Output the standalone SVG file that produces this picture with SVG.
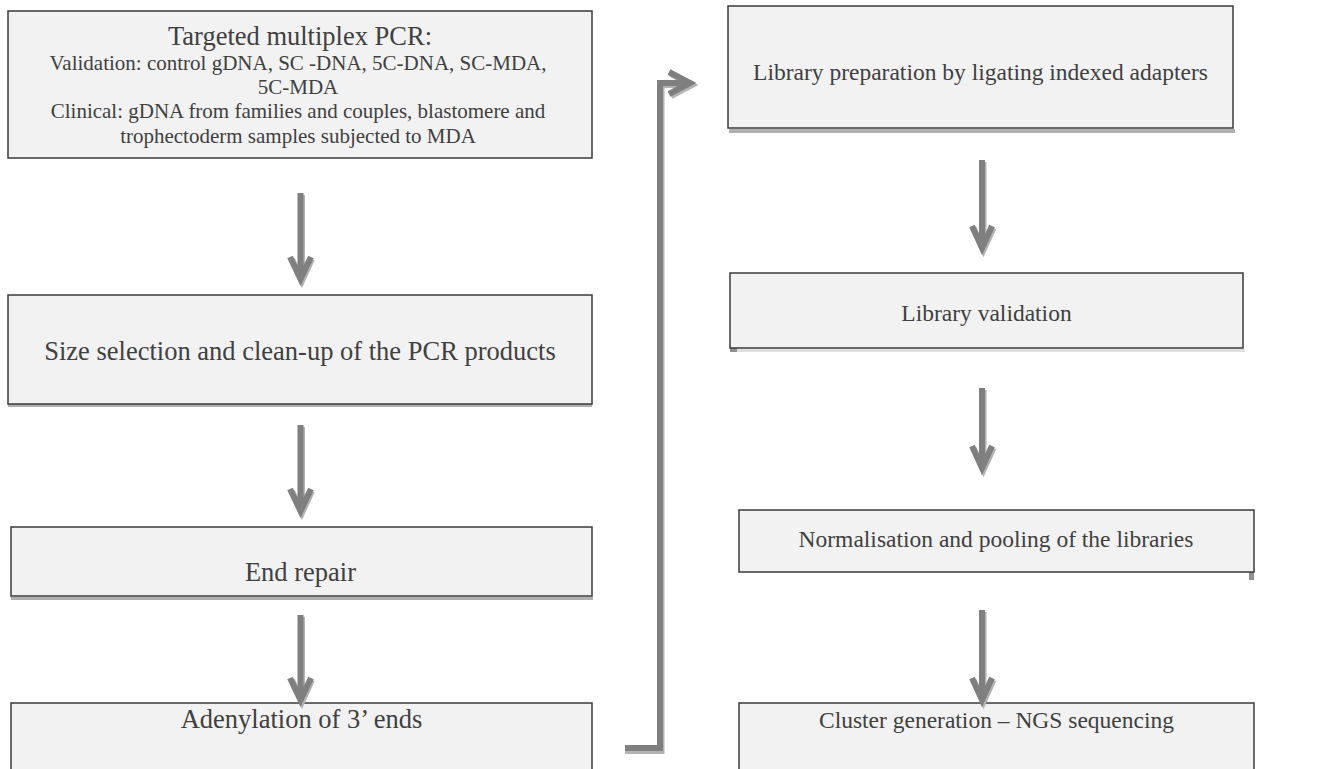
<svg xmlns="http://www.w3.org/2000/svg" width="1319" height="769" viewBox="0 0 1319 769">
<style>
.box{fill:#f2f2f2;stroke:#3a3a3a;stroke-width:1.5}
.t{font-family:"Liberation Serif","Times New Roman",serif;fill:#404040;text-anchor:middle}
.L{font-size:26.5px}
.R{font-size:23.5px}
.s{font-size:21px}
.ar{fill:none;stroke:#7f7f7f;stroke-width:6;stroke-linejoin:miter}
.sh{fill:none;stroke:#b3b3b3;stroke-width:6;stroke-linejoin:miter}
.shd{fill:#b0b0b0}
</style>
<rect width="1319" height="769" fill="#ffffff"/>

<g id="n1">
<rect class="box" x="8" y="11" width="584" height="147"/>
<text class="t L" x="300" y="45">Targeted multiplex PCR:</text>
<text class="t s" x="298" y="70">Validation: control gDNA, SC -DNA, 5C-DNA, SC-MDA,</text>
<text class="t s" x="298" y="94">5C-MDA</text>
<text class="t s" x="298" y="118">Clinical: gDNA from families and couples, blastomere and</text>
<text class="t s" x="298" y="143">trophectoderm samples subjected to MDA</text>
</g>

<g id="n2">
<rect class="shd" x="8" y="404" width="584" height="3"/>
<rect class="box" x="8" y="295" width="584" height="109"/>
<text class="t L" x="300" y="360">Size selection and clean-up of the PCR products</text>
</g>

<g id="n3">
<rect class="shd" x="11" y="597" width="582" height="3"/>
<rect class="box" x="11" y="527" width="581" height="69"/>
<text class="t L" x="300.5" y="581">End repair</text>
</g>

<g id="n4">
<rect class="box" x="11" y="703" width="581" height="80"/>
<text class="t L" x="301.5" y="728">Adenylation of 3’ ends</text>
</g>

<g id="n5">
<rect class="shd" x="729" y="129" width="506" height="4"/>
<rect class="box" x="728" y="6" width="505" height="122"/>
<text class="t R" x="980.5" y="80">Library preparation by ligating indexed adapters</text>
</g>

<g id="n6">
<rect fill="#e0e0e0" x="730" y="349" width="515" height="3"/>
<rect fill="#909090" x="730" y="348" width="7" height="4"/>
<rect class="box" x="730" y="273" width="513" height="75"/>
<text class="t R" x="986.5" y="321">Library validation</text>
</g>

<g id="n7">
<rect fill="#909090" x="1249" y="572" width="5" height="8"/>
<rect class="box" x="739" y="510" width="515" height="62"/>
<text class="t R" x="996" y="547">Normalisation and pooling of the libraries</text>
</g>

<g id="n8">
<rect class="box" x="739" y="703" width="515" height="80"/>
<text class="t R" x="996.5" y="728">Cluster generation – NGS sequencing</text>
</g>

<g id="connectors">
<!-- shadows -->
<path class="sh" d="M302 195 V278 M292 259 L302 281 L312 259"/>
<path class="sh" d="M302 427 V510 M292 491 L302 513 L312 491"/>
<path class="sh" d="M302 617 V699 M292 680 L302 702 L312 680"/>
<path class="sh" d="M983.5 162 V247 M973.5 228 L983.5 250 L993.5 228"/>
<path class="sh" d="M983.5 390 V467 M973.5 448 L983.5 470 L993.5 448"/>
<path class="sh" d="M983.5 612 V699 M973.5 680 L983.5 702 L993.5 680"/>
<path class="sh" d="M625 751 H661.5 V85 H689 M671 74 L692 85 L671 96"/>
<!-- main -->
<path class="ar" d="M300.5 193 V277 M290 257 L300.5 279 L311 257"/>
<path class="ar" d="M300.5 425 V509 M290 489 L300.5 511 L311 489"/>
<path class="ar" d="M300.5 615 V698 M290 678 L300.5 700 L311 678"/>
<path class="ar" d="M982 160 V246 M972 226 L982 248 L992 226"/>
<path class="ar" d="M982 388 V466 M972 446 L982 468 L992 446"/>
<path class="ar" d="M982 610 V698 M972 678 L982 700 L992 678"/>
<path class="ar" d="M625 748 H660 V83 H688 M669 72 L690 83 L669 94"/>
</g>
</svg>
